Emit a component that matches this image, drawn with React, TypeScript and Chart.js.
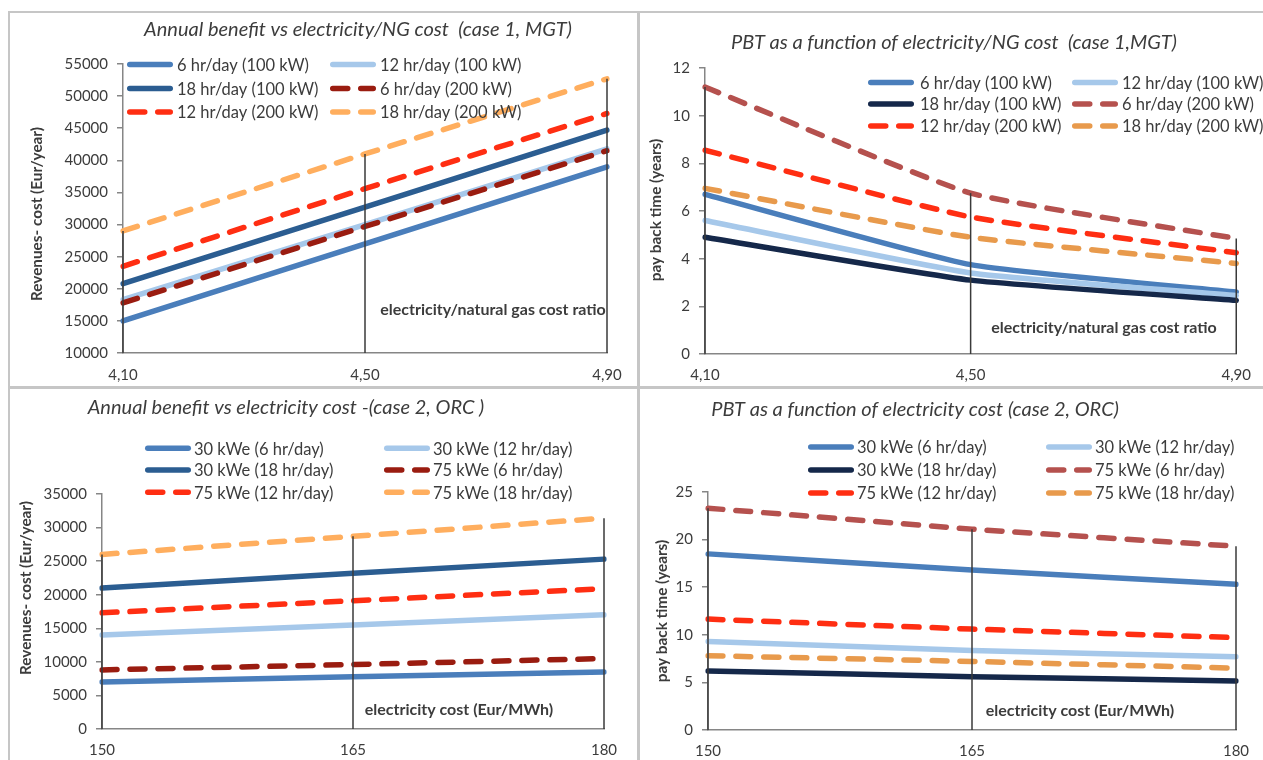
import React, { useEffect, useRef } from 'react';
import { Chart, registerables } from 'chart.js';

Chart.register(...registerables);

// ---------- data ----------
const ratioLabels = ['4,10', '4,50', '4,90'];
const costLabels = ['150', '165', '180'];

const mgtNames = ['6 hr/day (100 kW)', '12 hr/day (100 kW)', '18 hr/day (100 kW)', '6 hr/day (200 kW)', '12 hr/day (200 kW)', '18 hr/day (200 kW)'];
const orcNames = ['30 kWe (6 hr/day)', '30 kWe (12 hr/day)', '30 kWe (18 hr/day)', '75 kWe (6 hr/day)', '75 kWe (12 hr/day)', '75 kWe (18 hr/day)'];

// Panel 1: annual benefit, case 1 MGT (Eur/year)
const benefitMgt6h100 = [15000, 27000, 39000];
const benefitMgt12h100 = [18300, 30000, 41800];
const benefitMgt18h100 = [20800, 32700, 44700];
const benefitMgt6h200 = [17800, 29700, 41500];
const benefitMgt12h200 = [23500, 35600, 47300];
const benefitMgt18h200 = [29000, 41000, 52700];

// Panel 2: pay back time, case 1 MGT (years)
const pbtMgt6h100 = [6.7, 3.75, 2.6];
const pbtMgt12h100 = [5.6, 3.4, 2.45];
const pbtMgt18h100 = [4.9, 3.1, 2.25];
const pbtMgt6h200 = [11.2, 6.75, 4.85];
const pbtMgt12h200 = [8.55, 5.75, 4.25];
const pbtMgt18h200 = [6.95, 4.9, 3.8];

// Panel 3: annual benefit, case 2 ORC (Eur/year)
const benefitOrc30x6 = [7000, 7800, 8500];
const benefitOrc30x12 = [14000, 15500, 17000];
const benefitOrc30x18 = [21000, 23200, 25300];
const benefitOrc75x6 = [8800, 9600, 10500];
const benefitOrc75x12 = [17300, 19100, 20900];
const benefitOrc75x18 = [26000, 28700, 31400];

// Panel 4: pay back time, case 2 ORC (years)
const pbtOrc30x6 = [18.5, 16.8, 15.3];
const pbtOrc30x12 = [9.3, 8.35, 7.7];
const pbtOrc30x18 = [6.2, 5.6, 5.15];
const pbtOrc75x6 = [23.3, 21.1, 19.3];
const pbtOrc75x12 = [11.65, 10.6, 9.7];
const pbtOrc75x18 = [7.8, 7.2, 6.5];

const paletteA = ['#4A7EBB', '#A6C8EA', '#2B5D91', '#9A1C10', '#FF2E12', '#FFAE5E'];
const paletteB = ['#4A7EBB', '#A6C8EA', '#15284A', '#B5514E', '#FF2E12', '#E89A4C'];

const FONT = 'Lato, "Open Sans", sans-serif';
const TEXT = '#3c3c3c';
const AXIS = '#868686';

// ---------- plugin: drop lines, titles, inner label, legend ----------
const panelDecor = {
  id: 'panelDecor',
  afterDatasetsDraw(chart: any) {
    const ctx = chart.ctx;
    const xs = chart.scales.x;
    const ys = chart.scales.y;
    ctx.save();
    ctx.strokeStyle = '#3a3a3a';
    ctx.lineWidth = 1.5;
    ctx.setLineDash([]);
    const n = chart.data.labels.length;
    for (let i = 0; i < n; i++) {
      let m = -Infinity;
      chart.data.datasets.forEach((ds: any) => { m = Math.max(m, ds.data[i]); });
      const px = xs.getPixelForValue(i);
      ctx.beginPath();
      ctx.moveTo(px, ys.getPixelForValue(ys.min));
      ctx.lineTo(px, ys.getPixelForValue(m));
      ctx.stroke();
    }
    ctx.restore();
  },
  afterDraw(chart: any, _args: any, opts: any) {
    const ctx = chart.ctx;
    ctx.save();
    ctx.fillStyle = TEXT;
    // title
    ctx.font = `italic ${opts.titleSize}px ${FONT}`;
    ctx.textAlign = 'center';
    ctx.textBaseline = 'middle';
    ctx.fillText(opts.title, opts.titlePos[0], opts.titlePos[1]);
    // y title
    ctx.save();
    ctx.translate(opts.yTitlePos[0], opts.yTitlePos[1]);
    ctx.rotate(-Math.PI / 2);
    ctx.font = `bold 15.3px ${FONT}`;
    ctx.fillText(opts.yTitle, 0, 0);
    ctx.restore();
    // x note inside plot
    ctx.font = `bold 16px ${FONT}`;
    ctx.fillText(opts.xNote, opts.xNotePos[0], opts.xNotePos[1]);
    // legend
    ctx.textAlign = 'left';
    ctx.font = `16.5px ${FONT}`;
    chart.data.datasets.forEach((ds: any, i: number) => {
      const col = i % 2;
      const row = Math.floor(i / 2);
      const x0 = opts.legendCols[col];
      const y0 = opts.legendRows[row];
      const w = ds.borderWidth;
      ctx.save();
      ctx.strokeStyle = ds.borderColor;
      ctx.lineWidth = w;
      ctx.lineCap = 'round';
      ctx.setLineDash(ds.borderDash || []);
      ctx.beginPath();
      ctx.moveTo(x0 + w / 2, y0);
      ctx.lineTo(x0 + opts.legendLen - w / 2, y0);
      ctx.stroke();
      ctx.restore();
      ctx.fillStyle = TEXT;
      ctx.fillText(ds.label, opts.legendTextCols[col], y0 + 1);
    });
    ctx.restore();
  },
};

type Spec = {
  left: number; top: number; width: number; height: number;
  area: { left: number; top: number; right: number; bottom: number };
  labels: string[];
  names: string[];
  series: number[][];
  palette: string[];
  yMin: number; yMax: number; yStep: number;
  tension: number;
  title: string; titlePos: [number, number]; titleSize: number;
  yTitle: string; yTitlePos: [number, number];
  xNote: string; xNotePos: [number, number];
  legendCols: [number, number]; legendTextCols: [number, number]; legendRows: number[];
  xPad: number;
};

function Panel({ spec }: { spec: Spec }) {
  const ref = useRef<HTMLCanvasElement | null>(null);
  useEffect(() => {
    if (!ref.current) return;
    const s = spec;
    const yAxisW = 60;
    const n = s.series.length;
    const chart = new Chart(ref.current, {
      type: 'line',
      data: {
        labels: s.labels,
        datasets: s.series.map((d, i) => ({
          label: s.names[i],
          data: d,
          borderColor: s.palette[i],
          backgroundColor: s.palette[i],
          borderWidth: 5.5,
          borderDash: i >= 3 ? [15, 13] : [],
          borderCapStyle: 'round',
          borderJoinStyle: 'round',
          pointRadius: 0,
          tension: s.tension,
          fill: false,
          order: n - i,
        })),
      },
      options: {
        responsive: false,
        animation: false,
        devicePixelRatio: 1,
        layout: {
          padding: {
            left: s.area.left - yAxisW,
            top: s.area.top,
            right: s.width - s.area.right,
            bottom: 0,
          },
        },
        plugins: {
          legend: { display: false },
          tooltip: { enabled: false },
          title: { display: false },
          panelDecor: {
            title: s.title, titlePos: s.titlePos, titleSize: s.titleSize,
            yTitle: s.yTitle, yTitlePos: s.yTitlePos,
            xNote: s.xNote, xNotePos: s.xNotePos,
            legendCols: s.legendCols, legendTextCols: s.legendTextCols,
            legendRows: s.legendRows, legendLen: 46,
          },
        } as any,
        scales: {
          x: {
            type: 'category',
            offset: false,
            grid: { display: false, drawTicks: false },
            border: { display: true, color: AXIS, width: 1.5 },
            ticks: {
              autoSkip: false, maxRotation: 0, padding: s.xPad,
              color: TEXT, font: { family: FONT, size: 15 },
            },
            afterFit: (scale: any) => { scale.height = s.height - s.area.bottom; },
          },
          y: {
            min: s.yMin, max: s.yMax,
            grid: { display: true, drawOnChartArea: false, drawTicks: true, tickLength: 6, color: AXIS, lineWidth: 1.5 },
            border: { display: true, color: AXIS, width: 1.5 },
            ticks: {
              stepSize: s.yStep, padding: 9, color: TEXT,
              font: { family: FONT, size: 15 },
              callback: (v: any) => String(v),
            },
            afterFit: (scale: any) => { scale.width = yAxisW; },
          },
        },
      } as any,
      plugins: [panelDecor as any],
    });
    return () => chart.destroy();
  }, [spec]);
  return (
    <canvas
      ref={ref}
      width={spec.width}
      height={spec.height}
      style={{ position: 'absolute', left: spec.left, top: spec.top, width: spec.width, height: spec.height }}
    />
  );
}

const specs: Spec[] = [
  {
    left: 10, top: 13, width: 627, height: 373,
    area: { left: 113, top: 51, right: 597, bottom: 340 },
    labels: ratioLabels, names: mgtNames,
    series: [benefitMgt6h100, benefitMgt12h100, benefitMgt18h100, benefitMgt6h200, benefitMgt12h200, benefitMgt18h200],
    palette: paletteA, yMin: 10000, yMax: 55000, yStep: 5000, tension: 0,
    title: 'Annual benefit vs electricity/NG cost  (case 1, MGT)', titlePos: [348, 17], titleSize: 20,
    yTitle: 'Revenues- cost (Eur/year)', yTitlePos: [27, 201],
    xNote: 'electricity/natural gas cost ratio', xNotePos: [483, 297],
    legendCols: [117, 320], legendTextCols: [167, 370], legendRows: [51.5, 75.5, 99],
    xPad: 13,
  },
  {
    left: 640, top: 13, width: 623, height: 373,
    area: { left: 65, top: 55, right: 598, bottom: 341 },
    labels: ratioLabels, names: mgtNames,
    series: [pbtMgt6h100, pbtMgt12h100, pbtMgt18h100, pbtMgt6h200, pbtMgt12h200, pbtMgt18h200],
    palette: paletteB, yMin: 0, yMax: 12, yStep: 2, tension: 0.15,
    title: 'PBT as a function of electricity/NG cost  (case 1,MGT)', titlePos: [314, 30], titleSize: 20,
    yTitle: 'pay back time (years)', yTitlePos: [16, 197],
    xNote: 'electricity/natural gas cost ratio', xNotePos: [464, 315],
    legendCols: [228, 432], legendTextCols: [280, 482], legendRows: [69.5, 91, 113],
    xPad: 12,
  },
  {
    left: 10, top: 389, width: 627, height: 371,
    area: { left: 92, top: 105, right: 594, bottom: 340 },
    labels: costLabels, names: orcNames,
    series: [benefitOrc30x6, benefitOrc30x12, benefitOrc30x18, benefitOrc75x6, benefitOrc75x12, benefitOrc75x18],
    palette: paletteA, yMin: 0, yMax: 35000, yStep: 5000, tension: 0,
    title: 'Annual benefit vs electricity cost -(case 2, ORC )', titlePos: [276, 19], titleSize: 20,
    yTitle: 'Revenues- cost (Eur/year)', yTitlePos: [16.5, 199],
    xNote: 'electricity cost (Eur/MWh)', xNotePos: [449, 321],
    legendCols: [135, 374], legendTextCols: [184, 423], legendRows: [59.3, 81, 103.3],
    xPad: 12,
  },
  {
    left: 640, top: 389, width: 623, height: 371,
    area: { left: 68, top: 103, right: 596, bottom: 341 },
    labels: costLabels, names: orcNames,
    series: [pbtOrc30x6, pbtOrc30x12, pbtOrc30x18, pbtOrc75x6, pbtOrc75x12, pbtOrc75x18],
    palette: paletteB, yMin: 0, yMax: 25, yStep: 5, tension: 0.1,
    title: 'PBT as a function of electricity cost (case 2, ORC)', titlePos: [275, 21], titleSize: 20,
    yTitle: 'pay back time (years)', yTitlePos: [22, 222],
    xNote: 'electricity cost (Eur/MWh)', xNotePos: [440, 322],
    legendCols: [168, 406], legendTextCols: [217, 455], legendRows: [58, 81, 104],
    xPad: 12,
  },
];

const FRAME = '#C6C6C6';

export default function App() {
  return (
    <div style={{ position: 'absolute', left: 0, top: 0, width: 1263, height: 760, background: '#fff', overflow: 'hidden' }}>
      {specs.map((s, i) => <Panel key={i} spec={s} />)}
      <div style={{ position: 'absolute', left: 8, top: 11, width: 1255, height: 2, background: FRAME }} />
      <div style={{ position: 'absolute', left: 8, top: 11, width: 2, height: 749, background: FRAME }} />
      <div style={{ position: 'absolute', left: 637, top: 11, width: 3, height: 749, background: FRAME }} />
      <div style={{ position: 'absolute', left: 8, top: 386, width: 1255, height: 3, background: FRAME }} />
    </div>
  );
}
